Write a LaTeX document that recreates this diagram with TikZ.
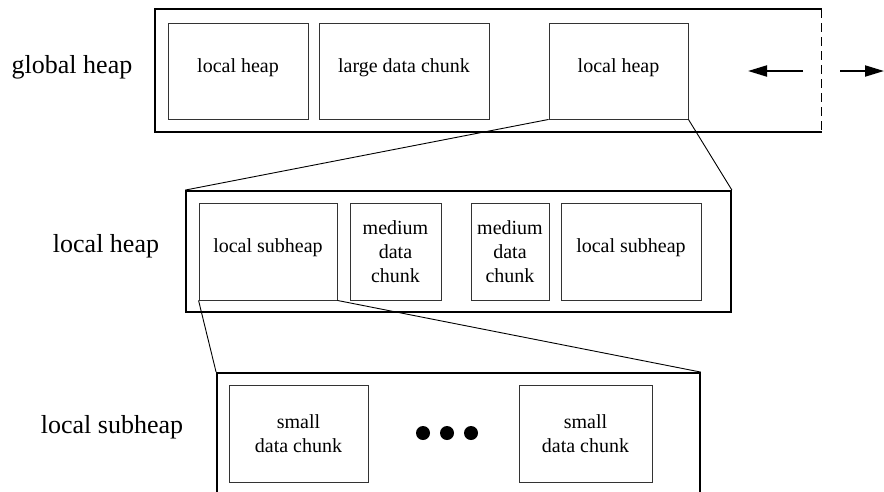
\documentclass[tikz,border=0pt]{standalone}
\usepackage{fontspec}
\setmainfont{Liberation Serif}
\usepackage{tikz}
\usetikzlibrary{arrows.meta,positioning}

\newcommand{\chunkfont}{\fontsize{20}{24}\selectfont}
\newcommand{\rowfont}{\fontsize{26}{30}\selectfont}

\tikzset{
    heapbox/.style={line width=1.8pt,inner sep=0pt},
    chunkbox/.style={draw=black!80,line width=0.9pt,inner sep=0pt,align=center,font=\chunkfont,minimum height=96pt},
    oneline/.style={text height=13.7pt,text depth=11pt},
    rowlabel/.style={anchor=base,font=\rowfont},
    zoomline/.style={line width=0.9pt},
    growarrow/.style={line width=2pt,-{Triangle[length=19pt,width=11pt]}}
}

\begin{document}
\begin{tikzpicture}[x=1pt,y=-1pt]
            \useasboundingbox (0,0) rectangle (884,491);

            % global heap
            \node   [rowlabel]                                          at (72,73)      (lgh)   {global heap};
            \node   [heapbox,minimum width=665pt,minimum height=121pt]  at (488.5,70.5) (gh)    {};
            \node   [chunkbox,oneline,minimum width=140pt]              at (238,71)     (gh1)   {local heap};
            \node   [chunkbox,oneline,minimum width=170pt]              at (404,71)     (gh2)   {large data chunk};
            \node   [chunkbox,oneline,minimum width=139pt]              at (618.5,71)   (gh3)   {local heap};
            \coordinate (g1) at (803,71);
            \coordinate (g2) at (748,71);
            \coordinate (g3) at (840,71);
            \coordinate (g4) at (884,71);

            \draw   [heapbox]   (gh.north east) -- (gh.north west) -- (gh.south west) -- (gh.south east);
            \draw   [heapbox,line width=0.9pt,dash pattern=on 9pt off 5pt] (gh.north east) -- (gh.south east);
            \draw   [growarrow] (g1) -- (g2);
            \draw   [growarrow] (g3) -- (g4);

            % local heap
            \node   [rowlabel]                                          at (106,252)    (llh)   {local heap};
            \node   [heapbox,draw,minimum width=545pt,minimum height=121pt] at (458.5,251.5) (lh) {};
            \node   [chunkbox,oneline,minimum width=138pt,minimum height=97pt] at (268,251.5) (lh1) {local subheap};
            \node   [chunkbox,minimum width=91pt,minimum height=97pt]   at (395.5,251.5) (lh2)  {medium\\data\\chunk};
            \node   [chunkbox,minimum width=78pt,minimum height=97pt]   at (510,251.5)  (lh3)   {medium\\data\\chunk};
            \node   [chunkbox,oneline,minimum width=140pt,minimum height=97pt] at (631,251.5) (lh4) {local subheap};

            \path   [zoomline]  (gh3.south west) edge (lh.north west);
            \path   [zoomline]  (gh3.south east) edge (lh.north east);

            % local subheap
            \node   [rowlabel]                                          at (112,433)    (lsh)   {local subheap};
            \node   [heapbox,draw,minimum width=483pt,minimum height=140pt] at (458.5,443) (sh) {};
            \node   [chunkbox,minimum width=139pt,minimum height=97pt]  at (298.5,433.5) (sh1)  {small\\data chunk};
            \node   [chunkbox,minimum width=133pt,minimum height=97pt]  at (585.5,433.5) (sh2)  {small\\data chunk};
            \foreach \x in {423,447,471}
                \fill (\x,433) circle (7pt);

            \path   [zoomline]  (lh1.south west) edge (sh.north west);
            \path   [zoomline]  (lh1.south east) edge (sh.north east);
        \end{tikzpicture}
\end{document}
